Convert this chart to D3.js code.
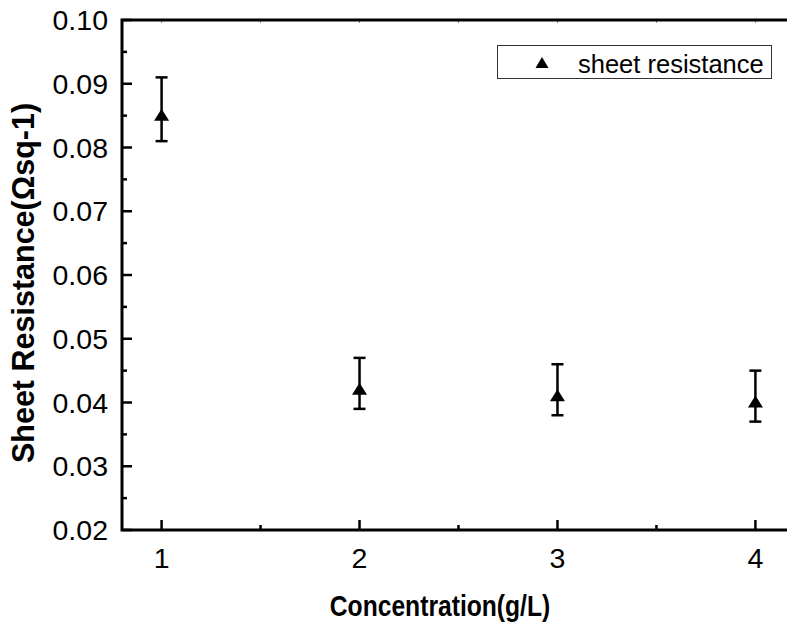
<!DOCTYPE html>
<html>
<head>
<meta charset="utf-8">
<script src="https://cdn.jsdelivr.net/npm/d3@7"></script>
<style>
  body { margin: 0; background: #fff; }
  svg { display: block; font-family: "Liberation Sans", Arial, sans-serif; }
</style>
</head>
<body>
<div id="chart"></div>
<script>
// Sheet resistance vs concentration, with error bars
const concentration = [1, 2, 3, 4];
const resistance = [0.085, 0.042, 0.041, 0.040];
const errUpper = [0.091, 0.047, 0.046, 0.045];
const errLower = [0.081, 0.039, 0.038, 0.037];
const yTicks = [0.02, 0.03, 0.04, 0.05, 0.06, 0.07, 0.08, 0.09, 0.10];
const xTicks = [1, 2, 3, 4];

const width = 787, height = 625;
const margin = { left: 122, top: 20, right: -8, bottom: 95 };

const svg = d3.select('#chart').append('svg')
  .attr('width', width)
  .attr('height', height);

const x = d3.scaleLinear().domain([0.8, 4.2])
  .range([margin.left, width - margin.right]);
const y = d3.scaleLinear().domain([0.02, 0.10])
  .range([height - margin.bottom, margin.top]);

const x0 = x.range()[0], x1 = x.range()[1];
const y0 = y.range()[0], y1 = y.range()[1];

// minor ticks
const yMinor = d3.range(0.025, 0.1, 0.01);
const xMinor = [1.5, 2.5, 3.5];

const ticks = svg.append('g').attr('stroke', '#000').attr('stroke-width', 2.5);
// left axis ticks (inward)
ticks.selectAll('.ym').data(yTicks).enter().append('line')
  .attr('x1', x0).attr('x2', x0 + 10)
  .attr('y1', d => y(d)).attr('y2', d => y(d));
ticks.selectAll('.yn').data(yMinor).enter().append('line')
  .attr('x1', x0).attr('x2', x0 + 5)
  .attr('y1', d => y(d)).attr('y2', d => y(d));
// bottom axis ticks (inward)
ticks.selectAll('.xm').data(xTicks).enter().append('line')
  .attr('x1', d => x(d)).attr('x2', d => x(d))
  .attr('y1', y0).attr('y2', y0 - 10);
ticks.selectAll('.xn').data(xMinor).enter().append('line')
  .attr('x1', d => x(d)).attr('x2', d => x(d))
  .attr('y1', y0).attr('y2', y0 - 5);
// top axis faint ticks
svg.append('g').attr('stroke', '#888').attr('stroke-width', 1)
  .selectAll('line').data(xTicks.concat(xMinor)).enter().append('line')
  .attr('x1', d => x(d)).attr('x2', d => x(d))
  .attr('y1', y1).attr('y2', y1 + 3);

// frame
svg.append('path')
  .attr('d', `M${x1},${y0} L${x0},${y0} L${x0},${y1} L${x1},${y1}`)
  .attr('fill', 'none').attr('stroke', '#000').attr('stroke-width', 3);

// tick labels
svg.append('g').selectAll('text').data(yTicks).enter().append('text')
  .attr('x', x0 - 14).attr('y', d => y(d) + 10)
  .attr('text-anchor', 'end').attr('font-size', 28.5)
  .text(d => d3.format('.2f')(d));
svg.append('g').selectAll('text').data(xTicks).enter().append('text')
  .attr('x', d => x(d)).attr('y', y0 + 38)
  .attr('text-anchor', 'middle').attr('font-size', 28.5)
  .text(d => d);

// axis titles
svg.append('text')
  .attr('transform', 'translate(440,616) scale(0.85,1)')
  .attr('text-anchor', 'middle').attr('font-size', 29).attr('font-weight', 'bold')
  .text('Concentration(g/L)');
svg.append('text')
  .attr('transform', 'translate(34,283) rotate(-90)')
  .attr('text-anchor', 'middle').attr('font-size', 30.5).attr('font-weight', 'bold')
  .text('Sheet Resistance(Ωsq-1)');

// error bars
const eb = svg.append('g').attr('stroke', '#000').attr('stroke-width', 2.5);
concentration.forEach((c, i) => {
  const cx = x(c);
  eb.append('line').attr('x1', cx).attr('x2', cx)
    .attr('y1', y(errUpper[i])).attr('y2', y(errLower[i]));
  [errUpper[i], errLower[i]].forEach(v => {
    eb.append('line').attr('x1', cx - 6).attr('x2', cx + 6)
      .attr('y1', y(v)).attr('y2', y(v));
  });
});

// triangle markers
const tri = 'M0,-7 L7.5,5 L-7.5,5 Z';
svg.append('g').selectAll('path').data(concentration).enter().append('path')
  .attr('d', tri)
  .attr('transform', (d, i) => `translate(${x(d)},${y(resistance[i])})`)
  .attr('fill', '#000');

// legend
const lg = svg.append('g');
lg.append('rect').attr('x', 497.5).attr('y', 45.5).attr('width', 274).attr('height', 33)
  .attr('fill', '#fff').attr('stroke', '#333').attr('stroke-width', 1);
lg.append('path').attr('d', 'M0,-6 L6.5,5 L-6.5,5 Z')
  .attr('transform', 'translate(542,63)').attr('fill', '#000');
lg.append('text').attr('x', 578).attr('y', 73).attr('font-size', 25.5)
  .text('sheet resistance');
</script>
</body>
</html>
